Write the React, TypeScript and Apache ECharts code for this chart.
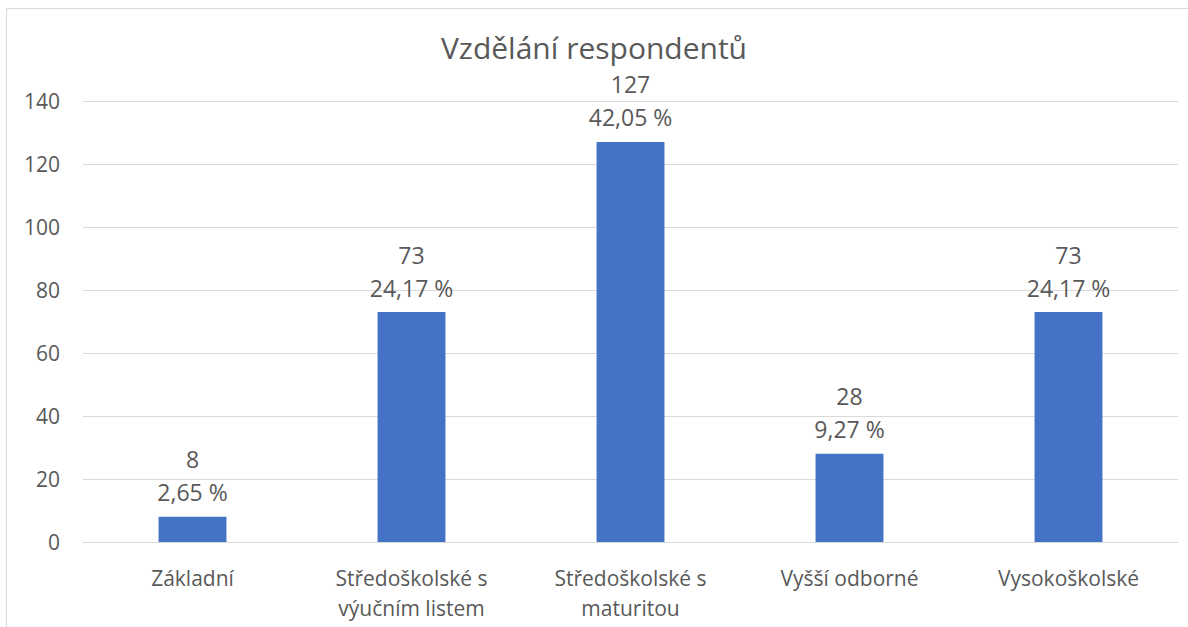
import React, { useEffect, useRef } from "react";
import * as echarts from "echarts";

const categories = [
  "Základní",
  "Středoškolské s\nvýučním listem",
  "Středoškolské s\nmaturitou",
  "Vyšší odborné",
  "Vysokoškolské",
];
const counts = [8, 73, 127, 28, 73];
const percents = ["2,65", "24,17", "42,05", "9,27", "24,17"];
const yTicks = { min: 0, max: 140, interval: 20 };

const FONT = "'Open Sans', 'Noto Sans', sans-serif";
const TEXT = "#595959";

export default function App() {
  const ref = useRef<HTMLDivElement>(null);
  useEffect(() => {
    const chart = echarts.init(ref.current!, null, { renderer: "svg" });
    chart.setOption({
      animation: false,
      backgroundColor: "#ffffff",
      textStyle: { fontFamily: FONT, color: TEXT },
      title: {
        text: "Vzdělání respondentů",
        left: "center",
        top: 34,
        padding: 0,
        textStyle: {
          fontFamily: FONT,
          fontSize: 30,
          lineHeight: 26,
          fontWeight: "normal",
          color: TEXT,
        },
      },
      graphic: [
        {
          type: "rect",
          shape: { x: 6.5, y: 8.5, width: 1300, height: 800 },
          style: { fill: "none", stroke: "#d9d9d9", lineWidth: 1 },
          silent: true,
          z: -1,
        },
      ],
      grid: { left: 83, right: 10, top: 101, bottom: 85 },
      xAxis: {
        type: "category",
        data: categories,
        axisLine: { lineStyle: { color: "#d9d9d9", width: 1 } },
        axisTick: { show: false },
        axisLabel: {
          fontFamily: FONT,
          fontSize: 21,
          color: TEXT,
          margin: 21,
          lineHeight: 30,
          interval: 0,
        },
      },
      yAxis: {
        type: "value",
        min: yTicks.min,
        max: yTicks.max,
        interval: yTicks.interval,
        axisLine: { show: false },
        axisTick: { show: false },
        splitLine: { lineStyle: { color: "#d9d9d9", width: 1 } },
        axisLabel: { fontFamily: FONT, fontSize: 21, color: TEXT, margin: 23 },
      },
      series: [
        {
          type: "bar",
          data: counts,
          barWidth: "31%",
          itemStyle: { color: "#4472c4" },
          label: {
            show: true,
            position: "top",
            distance: 8,
            fontFamily: FONT,
            fontSize: 23,
            lineHeight: 33,
            color: TEXT,
            formatter: (p: any) => `${p.value}\n${percents[p.dataIndex]} %`,
          },
        },
      ],
    });
    return () => chart.dispose();
  }, []);
  return (
    <div
      ref={ref}
      style={{ position: "fixed", left: 0, top: 0, width: 1188, height: 627 }}
    />
  );
}
